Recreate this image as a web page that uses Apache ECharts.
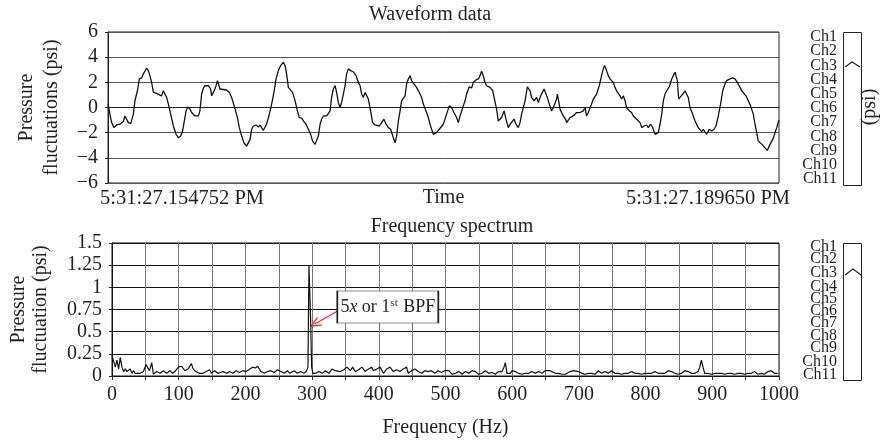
<!DOCTYPE html>
<html><head><meta charset="utf-8">
<script src="https://cdn.jsdelivr.net/npm/echarts@6/dist/echarts.min.js"></script>
<style>html,body{margin:0;padding:0;background:#fff}#c{width:889px;height:444px}</style>
</head><body><div id="c"></div>
<script>
// ---- data ----
const titles = ['Waveform data', 'Frequency spectrum'];
const timeLabels = ['5:31:27.154752 PM', '5:31:27.189650 PM'];
const timeSpanMs = 34.898;
const channels = ['Ch1','Ch2','Ch3','Ch4','Ch5','Ch6','Ch7','Ch8','Ch9','Ch10','Ch11'];
const annotationText = ['5', 'x', ' or 1', 'st', ' BPF'];
const waveT = [0,0.10,0.19,0.31,0.45,0.62,0.80,0.88,0.97,1.06,
1.18,1.32,1.40,1.53,1.63,1.75,1.84,2.01,2.10,2.18,
2.27,2.36,2.44,2.53,2.67,2.79,2.88,2.96,3.05,3.14,
3.26,3.40,3.54,3.66,3.78,3.88,3.97,4.06,4.14,4.26,
4.35,4.44,4.52,4.61,4.70,4.78,4.87,4.96,5.04,5.22,
5.34,5.39,5.48,5.56,5.62,5.69,5.76,5.82,5.91,6.17,
6.31,6.43,6.61,6.73,6.83,6.95,7.07,7.21,7.30,7.39,
7.47,7.56,7.70,7.82,7.91,7.99,8.08,8.17,8.25,8.39,
8.51,8.63,8.74,8.86,8.98,9.12,9.21,9.29,9.38,9.47,
9.60,9.73,9.85,9.95,10.07,10.19,10.30,10.42,10.54,10.64,
10.77,10.85,10.94,11.03,11.11,11.20,11.29,11.37,11.46,11.55,
11.63,11.72,11.81,11.89,11.98,12.07,12.15,12.24,12.33,12.41,
12.50,12.62,12.72,12.79,12.90,13.02,13.11,13.19,13.28,13.37,
13.45,13.54,13.66,13.76,13.89,13.97,14.11,14.23,14.35,14.46,
14.58,14.70,14.84,14.93,15.01,15.10,15.19,15.27,15.36,15.45,
15.53,15.62,15.71,15.79,15.91,16.05,16.19,16.31,16.40,16.49,
16.57,16.66,16.75,16.83,16.92,17.01,17.09,17.23,17.44,17.61,
17.75,17.87,17.99,18.13,18.22,18.31,18.45,18.57,18.65,18.79,
18.91,19.00,19.14,19.26,19.35,19.43,19.52,19.61,19.69,19.87,
20.01,20.08,20.21,20.30,20.39,20.47,20.60,20.70,20.77,20.82,
20.91,20.99,21.12,21.22,21.34,21.43,21.51,21.69,21.81,21.95,
22.03,22.16,22.29,22.38,22.47,22.55,22.68,22.78,22.85,22.95,
23.07,23.16,23.25,23.33,23.37,23.44,23.51,23.68,23.82,23.85,
24.03,24.20,24.37,24.55,24.72,24.81,24.89,24.98,25.15,25.24,
25.41,25.55,25.67,25.76,25.83,25.93,26.02,26.11,26.19,26.28,
26.37,26.45,26.63,26.71,26.80,26.89,26.97,27.11,27.23,27.32,
27.50,27.67,27.76,27.88,28.02,28.10,28.22,28.33,28.45,28.53,
28.62,28.71,28.80,28.88,28.97,29.06,29.19,29.32,29.40,29.49,
29.61,29.68,29.78,29.89,30.01,30.09,30.18,30.27,30.41,30.53,
30.70,30.88,30.96,31.14,31.27,31.40,31.52,31.62,31.74,31.86,
31.97,32.09,32.17,32.26,32.35,32.49,32.61,32.70,32.78,32.87,
32.96,33.04,33.18,33.30,33.42,33.56,33.65,33.74,33.82,33.91,
34.05,34.17,34.29,34.34,34.43,34.52,34.60,34.69,34.78,34.89];
const waveP = [0.3,-0.53,-1.2,-1.6,-1.39,-1.33,-1.12,-0.67,-0.8,-1.2,
-1.28,-0.53,0.53,1.33,2.27,2.35,2.67,3.12,2.93,2.53,
2.0,1.2,1.07,1.12,1.01,0.93,1.33,1.2,0.8,0.27,
-0.53,-1.47,-2.13,-2.4,-2.27,-1.87,-1.07,-0.27,0.05,-0.13,
-0.4,-0.27,-0.67,-0.8,-0.67,-0.27,1.07,1.55,1.73,1.73,
1.47,0.93,1.2,1.47,1.73,2.13,1.81,1.47,1.39,1.39,
1.2,0.8,-0.13,-0.8,-1.6,-2.27,-2.8,-3.07,-3.2,-2.53,
-1.73,-1.47,-1.39,-1.55,-1.39,-1.6,-1.81,-1.87,-1.33,-0.53,
0.27,1.2,2.27,2.93,3.33,3.6,3.33,2.67,1.6,1.47,
1.2,0.53,-0.27,-0.8,-0.85,-1.12,-1.33,-1.73,-2.13,-2.67,
-2.93,-2.8,-2.27,-1.33,-0.93,-0.67,-0.53,-0.67,-0.8,-0.27,
0.8,1.47,1.73,1.2,0.4,0,0.4,1.07,1.73,2.67,
3.07,2.93,2.93,2.8,2.53,2.0,1.73,1.07,0.8,1.2,
1.33,0.67,-0.27,-1.2,-1.39,-1.33,-1.47,-1.2,-0.93,-1.33,
-1.6,-1.73,-2.4,-2.8,-2.27,-1.07,-0.27,0.53,0.67,0.93,
1.87,2.27,2.53,2.13,1.87,1.6,1.2,0.8,0.27,0.13,
-0.4,-0.8,-1.33,-1.73,-2.13,-2.27,-2.0,-1.73,-1.33,-0.53,
0.13,0,-0.4,-0.8,-1.2,-0.67,0,0.53,1.07,1.65,
1.55,2.0,2.19,2.27,2.53,2.88,2.53,2.0,1.73,1.6,
1.33,0.8,-0.13,-1.07,-1.12,-0.8,-0.27,-0.93,-1.33,-1.6,
-1.33,-1.2,-0.93,-1.33,-1.6,-1.2,-0.53,0.53,1.65,1.33,
0.8,0.53,0.8,0.4,0.8,1.07,1.47,1.07,0.8,0.27,
-0.27,0,0.13,0.67,1.07,0.53,-0.13,-0.67,-1.01,-1.2,
-0.8,-0.67,-0.4,-0.4,-0.27,0,-0.67,-0.4,0.27,0.67,
1.07,1.73,2.53,3.07,3.33,2.93,2.53,2.27,2.13,2.0,
1.6,1.33,0.93,0.67,0.93,0.53,0,-0.27,-0.4,-0.67,
-0.93,-1.2,-1.6,-1.47,-1.39,-1.6,-1.33,-1.6,-2.13,-2.27,
-2.0,-1.33,-0.53,0.53,1.07,1.33,1.65,2.27,2.53,2.8,
2.13,0.67,0.8,1.07,1.33,1.47,0.8,0,-0.53,-1.07,
-1.6,-1.92,-1.73,-2.13,-1.73,-1.87,-1.73,-1.47,-0.67,0.27,
1.33,1.87,2.13,2.0,2.27,2.35,2.27,2.4,1.87,1.6,
1.33,1.33,0.93,0.53,0.13,-0.53,-1.33,-2.0,-2.67,-2.8,
-2.99,-3.2,-3.41,-3.33,-2.93,-2.67,-2.45,-2.0,-1.6,-1.0];
const specF = [0,2.5,5,7.4,9.9,12.4,14.9,17.4,19.9,22.3,
24.8,27.3,29.8,32.3,34.7,37.2,42.2,47.1,51.1,53.1,
56.1,59.6,62.0,67.0,72.0,76.9,81.9,86.8,90.8,94.3,
99.3,104.2,109.2,114.1,119.1,121.6,125.6,131.5,136.5,141.4,
146.4,148.9,153.8,158.8,166.3,172.2,176.2,181.1,186.1,191.1,
196.0,201.0,206.9,210.9,214.9,218.4,220.8,223.3,228.3,233.3,
238.2,243.2,248.1,253.1,258.1,263.0,266.5,273.0,277.9,282.9,
287.8,291.3,293.8,295.3,297.8,299.3,301.2,305.2,310.2,315.1,
320.1,325.1,330.0,335.0,337.5,342.4,347.4,352.4,357.3,360.8,
364.8,369.7,374.7,379.7,384.6,389.6,392.1,397.0,402.0,407.0,
411.9,416.9,421.8,426.8,431.8,436.7,441.7,444.2,449.1,454.1,
459.1,464.0,469.0,473.9,478.9,483.9,488.8,493.8,498.8,505.0,
510.0,514.9,519.9,524.9,529.9,534.9,539.9,544.8,549.8,554.8,
559.8,564.8,569.8,574.7,579.7,584.7,587.7,589.7,592.2,597.2,
599.7,604.6,609.6,614.6,619.6,624.6,629.5,634.5,639.5,644.5,
649.5,652.0,656.9,659.4,664.4,669.4,674.4,679.4,686.8,691.8,
694.3,699.3,704.3,709.3,714.3,719.2,724.2,729.2,734.2,739.2,
744.1,749.1,754.1,759.1,764.1,769.1,774.0,779.0,784.0,789.0,
794.0,798.9,803.9,808.9,813.9,818.9,823.9,828.8,833.8,838.8,
843.8,848.8,853.8,858.7,863.7,868.7,873.7,878.7,881.2,883.6,
886.1,888.6,893.6,898.6,903.6,908.6,913.5,918.5,923.5,928.5,
933.5,938.5,943.4,948.4,953.4,958.4,963.4,968.3,973.3,978.3,
983.3,988.3,993.3,998.3];
const specA = [0.23,0.21,0.10,0.18,0.08,0.21,0.10,0.05,0.08,0.05,
0.03,0.08,0.03,0.06,0.03,0.05,0.03,0.05,0.13,0.10,
0.06,0.15,0.02,0.05,0.03,0.06,0.03,0.06,0.03,0.05,
0.10,0.11,0.06,0.08,0.14,0.08,0.05,0.03,0.03,0.05,
0.07,0.03,0.06,0.03,0.05,0.03,0.05,0.03,0.06,0.04,
0.06,0.05,0.08,0.10,0.09,0.11,0.08,0.05,0.03,0.05,
0.06,0.04,0.07,0.05,0.03,0.06,0.03,0.06,0.03,0.05,
0.03,0.05,0.10,1.25,0.63,0.10,0.03,0.03,0.05,0.03,
0.06,0.03,0.08,0.06,0.08,0.05,0.07,0.10,0.06,0.10,
0.05,0.07,0.10,0.05,0.08,0.10,0.06,0.08,0.10,0.03,
0.08,0.10,0.05,0.07,0.05,0.08,0.10,0.03,0.06,0.08,
0.05,0.03,0.06,0.05,0.06,0.03,0.06,0.04,0.06,0.06,
0.02,0.03,0.05,0.02,0.05,0.03,0.06,0.05,0.02,0.03,
0.06,0.03,0.04,0.02,0.05,0.05,0.10,0.15,0.03,0.03,
0.06,0.05,0.03,0.02,0.03,0.03,0.05,0.03,0.05,0.03,
0.06,0.07,0.06,0.05,0.03,0.03,0.02,0.02,0.05,0.06,
0.05,0.05,0.03,0.02,0.03,0.03,0.02,0.06,0.03,0.05,
0.03,0.06,0.03,0.03,0.02,0.03,0.03,0.05,0.03,0.03,
0.02,0.03,0.03,0.03,0.05,0.03,0.03,0.03,0.06,0.05,
0.03,0.02,0.03,0.06,0.05,0.03,0.03,0.05,0.10,0.18,
0.10,0.03,0.03,0.02,0.03,0.03,0.03,0.02,0.03,0.03,
0.02,0.03,0.03,0.02,0.03,0.03,0.05,0.02,0.03,0.02,
0.05,0.06,0.03,0.03];
// annotation anchor points (data space): box centre, arrow tail, arrow tip
const annBox = [413.5, 0.778];
const annTail = [338.3, 0.733];
const annTip = [304, 0.586];

// ---- styling / layout ----
const FONT = '"Liberation Serif", "Times New Roman", serif';
const INK = '#231f20';
const G1 = {left:108, top:32, width:671, height:151};
const G2 = {left:108, top:243, width:671, height:133};
const chTopY = [37,51,66,80,94,108,122,137,151,165,179];
const chBotY = [247,259,273,287,299,311,323,336,348,362,375];

function pairs(a, b){ const n = Math.min(a.length, b.length); const r=[]; for(let i=0;i<n;i++) r.push([a[i], b[i]]); return r; }

const graphics = [];
function txt(x, y, text, size, align, extra){
  return Object.assign({type:'text', x:x, y:y, silent:true, style:{text:text, font: size+'px '+FONT, fill:INK, align:align||'center', textAlign:align||'center', verticalAlign:'middle', textVerticalAlign:'middle'}}, extra||{});
}
graphics.push(txt(430, 15, titles[0], 20));
graphics.push(txt(452, 227, titles[1], 20));
function panel(y0, y1, ys, caret){
  graphics.push({type:'rect', silent:true, shape:{x:843.5, y:y0+0.5, width:18, height:y1-y0}, style:{fill:'#fff', stroke:'#222', lineWidth:1}});
  graphics.push({type:'polyline', silent:true, shape:{points:caret}, style:{stroke:'#222', fill:null, lineWidth:1.2}});
  channels.forEach(function(c,i){ graphics.push(txt(837, ys[i], c, 16, 'right')); });
}
panel(32, 185, chTopY, [[845,67],[852,62],[860,67]]);
panel(243, 380, chBotY, [[845,275],[853,269],[861,275]]);
graphics.push(txt(870, 107, '(psi)', 20, 'center', {rotation: Math.PI/2}));

const axisText = {fontFamily: FONT, fontSize: 20, color: INK};

const option = {
  animation: false,
  backgroundColor: '#fff',
  grid: [
    Object.assign({show:true, borderColor:'#222', borderWidth:1, backgroundColor:'transparent'}, G1),
    Object.assign({show:true, borderColor:'#111', borderWidth:1, backgroundColor:'transparent'}, G2)
  ],
  xAxis: [
    {gridIndex:0, type:'value', min:0, max:timeSpanMs,
     axisLine:{show:true, lineStyle:{color:'#222'}}, axisTick:{show:false}, splitLine:{show:false},
     axisLabel: Object.assign({margin:5, showMinLabel:true, showMaxLabel:true,
       formatter: function(v){ if (v === 0) return '{a|' + timeLabels[0] + '}'; if (Math.abs(v - timeSpanMs) < 1e-6) return '{b|' + timeLabels[1] + '}'; return ''; },
       rich:{a:{fontFamily:FONT, fontSize:20.5, color:INK, padding:[0,0,0,148]}, b:{fontFamily:FONT, fontSize:20.5, color:INK, padding:[0,142,0,0]}}}, axisText),
     name:'Time', nameLocation:'middle', nameGap:5, nameMoveOverlap:false, nameTextStyle: Object.assign({verticalAlign:'top'}, axisText)},
    {gridIndex:1, type:'value', min:0, max:1000, interval:50,
     axisLine:{show:true, lineStyle:{color:'#111'}}, axisTick:{show:true, length:4, lineStyle:{color:'#333'}},
     splitLine:{show:true, lineStyle:{color:'#777', width:1}},
     axisLabel: Object.assign({margin:9, formatter: function(v){ return v % 100 === 0 ? String(v) : ''; }}, axisText),
     name:'Frequency (Hz)', nameLocation:'middle', nameGap:42, nameMoveOverlap:false, nameTextStyle: Object.assign({verticalAlign:'top'}, axisText)}
  ],
  yAxis: [
    {gridIndex:0, type:'value', min:-6, max:6, interval:2,
     axisLine:{show:true, lineStyle:{color:'#222'}}, axisTick:{show:true, length:3, lineStyle:{color:'#222'}},
     splitLine:{show:true, lineStyle:{color:'#555', width:1}},
     axisLabel: Object.assign({margin:10, formatter: function(v){ return String(v).replace('-', '\u2212'); }}, axisText),
     name:'Pressure\nfluctuations (psi)', nameLocation:'middle', nameRotate:90, nameGap:44, nameMoveOverlap:false,
     nameTextStyle: Object.assign({lineHeight:25}, axisText)},
    {gridIndex:1, type:'value', min:0, max:1.5, interval:0.25,
     axisLine:{show:true, lineStyle:{color:'#111'}}, axisTick:{show:true, length:3, lineStyle:{color:'#222'}},
     splitLine:{show:true, lineStyle:{color:'#111', width:1}},
     axisLabel: Object.assign({margin:10}, axisText),
     name:'Pressure\nfluctuation (psi)', nameLocation:'middle', nameRotate:90, nameGap:60, nameMoveOverlap:false,
     nameTextStyle: Object.assign({lineHeight:22}, axisText)}
  ],
  series: [
    {type:'line', xAxisIndex:0, yAxisIndex:0, data: pairs(waveT, waveP), showSymbol:false, symbol:'none',
     lineStyle:{color:'#111', width:1.3}, silent:true, z:5},
    {type:'line', xAxisIndex:1, yAxisIndex:1, data: pairs(specF, specA), showSymbol:false, symbol:'none',
     lineStyle:{color:'#111', width:1.2}, silent:true, z:5,
     markLine:{silent:true, animation:false,
       symbol:['none','path://M0,12 L5,0 L10,12 L8.6,12 L5,3.2 L1.4,12 Z'], symbolSize:[10,11],
       lineStyle:{color:'#e8262b', width:1.2, type:'solid'}, label:{show:false},
       data:[[{coord:annTail},{coord:annTip}]]},
     markPoint:{silent:true, animation:false, symbol:'rect', symbolSize:[101,32],
       itemStyle:{color:'#fff', borderColor:'#222', borderWidth:1},
       label:{show:true, position:'inside', fontFamily:FONT, fontSize:18, color:INK,
         formatter: annotationText[0] + '{it|' + annotationText[1] + '}' + annotationText[2] + '{sup|' + annotationText[3] + '}' + annotationText[4],
         rich:{
           it:{fontFamily:FONT, fontSize:18, fontStyle:'italic', color:INK},
           sup:{fontFamily:FONT, fontSize:11, color:INK, verticalAlign:'top', padding:[0,1,8,0]}
         }},
       data:[{coord:annBox}]}}
  ],
  graphic: graphics
};
const chart = echarts.init(document.getElementById('c'));
chart.setOption(option);
</script>
</body></html>
